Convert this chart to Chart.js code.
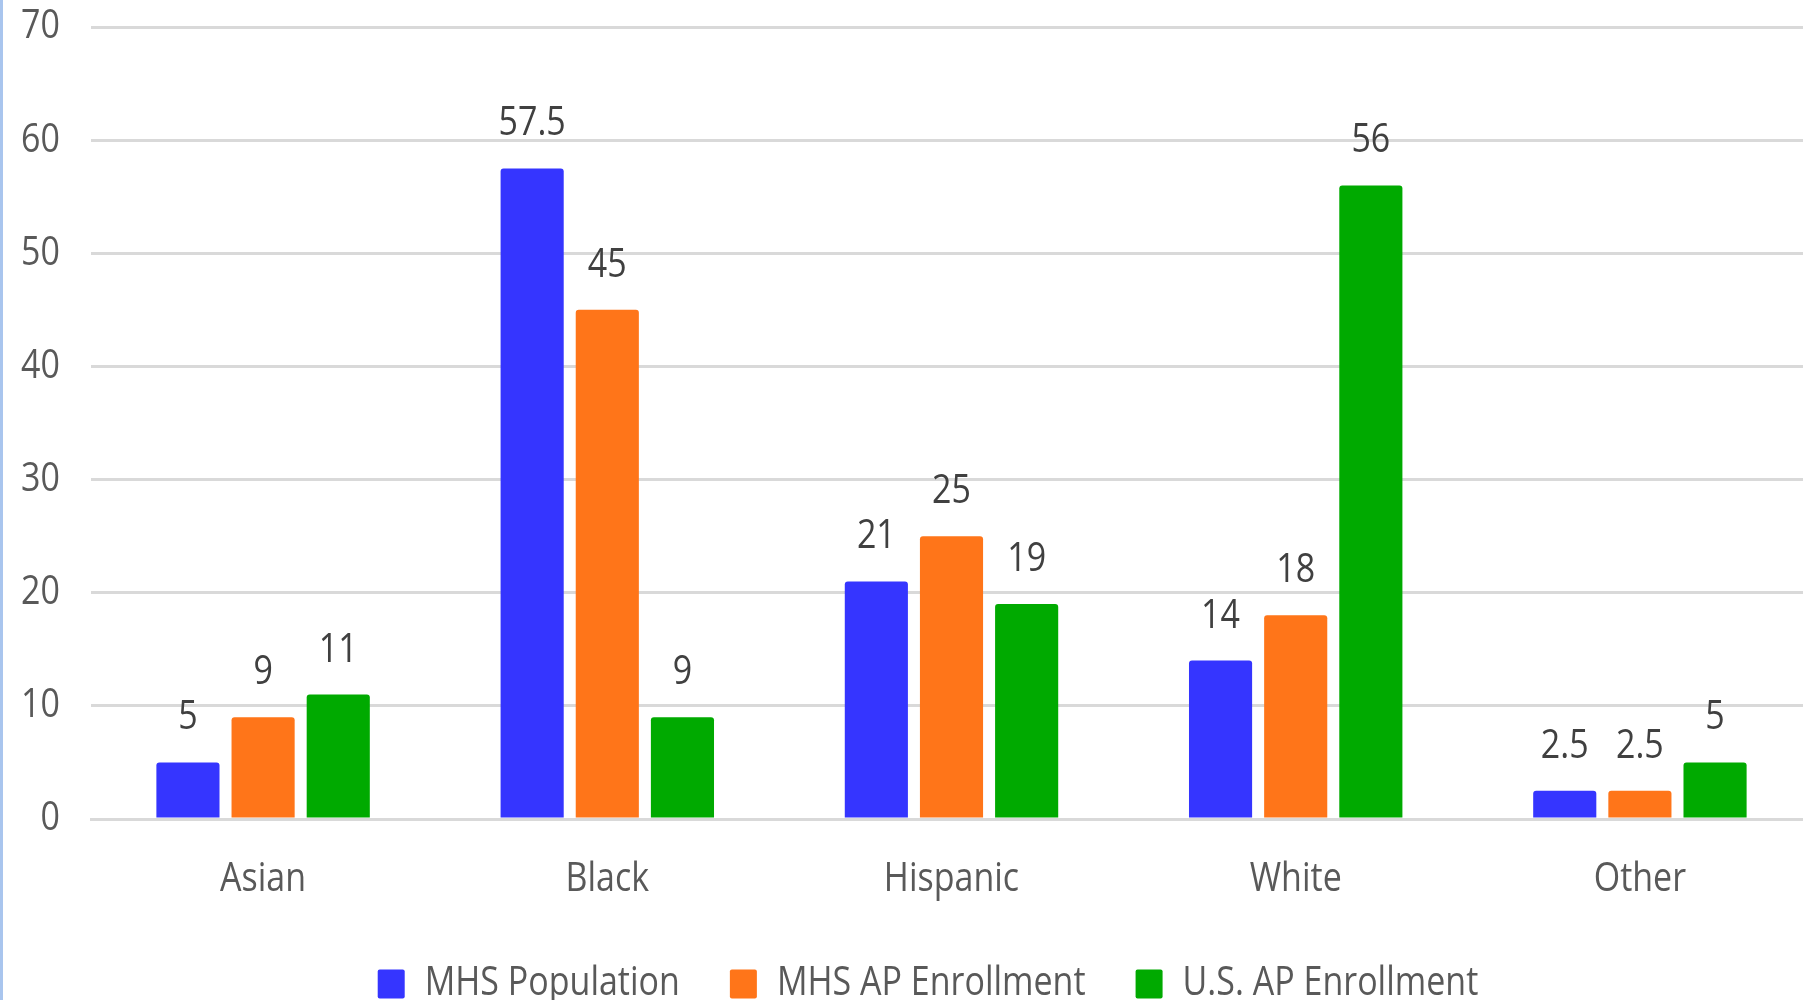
<!DOCTYPE html>
<html>
<head>
<meta charset="utf-8">
<script src="https://cdn.jsdelivr.net/npm/chart.js@4.4.1/dist/chart.umd.min.js"></script>
<style>
  html, body { margin: 0; padding: 0; background: #fff; overflow: hidden; }
  #wrap { position: relative; width: 1812px; height: 1000px; }
  #edge { position: absolute; left: 0; top: 0; width: 3px; height: 1000px; background: #a9c5ee; z-index: 2; }
</style>
</head>
<body>
<div id="wrap"><div id="edge"></div><canvas id="c" width="1812" height="1000"></canvas></div>
<script>
const categories = ["Asian", "Black", "Hispanic", "White", "Other"];
const seriesNames = ["MHS Population", "MHS AP Enrollment", "U.S. AP Enrollment"];
const mhsPopulation = [5, 57.5, 21, 14, 2.5];
const mhsApEnrollment = [9, 45, 25, 18, 2.5];
const usApEnrollment = [11, 9, 19, 56, 5];
const yTicks = [0, 10, 20, 30, 40, 50, 60, 70];

const colors = ["#3535ff", "#ff7519", "#00aa00"];
const FAMILY = "'Open Sans', 'Noto Sans', sans-serif";
const TEXT_SQUEEZE = 0.85;

// narrow the text horizontally, like the reference's compressed lettering
const canvas = document.getElementById("c");
const c2d = canvas.getContext("2d");
const origFill = c2d.fillText.bind(c2d);
const origMeasure = c2d.measureText.bind(c2d);
c2d.fillText = function (t, x, y, mw) {
  this.save();
  this.translate(x, y);
  this.scale(TEXT_SQUEEZE, 1);
  if (mw !== undefined) origFill(t, 0, 0, mw / TEXT_SQUEEZE); else origFill(t, 0, 0);
  this.restore();
};
c2d.measureText = function (t) {
  const m = origMeasure(t);
  return {
    width: m.width * TEXT_SQUEEZE,
    actualBoundingBoxAscent: m.actualBoundingBoxAscent,
    actualBoundingBoxDescent: m.actualBoundingBoxDescent,
    actualBoundingBoxLeft: m.actualBoundingBoxLeft * TEXT_SQUEEZE,
    actualBoundingBoxRight: m.actualBoundingBoxRight * TEXT_SQUEEZE,
    fontBoundingBoxAscent: m.fontBoundingBoxAscent,
    fontBoundingBoxDescent: m.fontBoundingBoxDescent
  };
};

const labelPlugin = {
  id: "valueLabels",
  afterDatasetsDraw(chart) {
    const ctx = chart.ctx;
    ctx.save();
    ctx.font = "40px " + FAMILY;
    ctx.fillStyle = "#404040";
    ctx.textAlign = "center";
    ctx.textBaseline = "alphabetic";
    chart.data.datasets.forEach((ds, i) => {
      const meta = chart.getDatasetMeta(i);
      meta.data.forEach((bar, j) => {
        ctx.fillText(String(ds.data[j]), bar.x, bar.y - 33);
      });
    });
    ctx.restore();
  }
};

const legendShift = {
  id: "legendShift",
  beforeDraw(chart) {
    if (chart.legend && !chart.legend._shifted) {
      chart.legend.left += 22;
      chart.legend.right += 22;
      chart.legend._shifted = true;
    }
  }
};

new Chart(c2d, {
  type: "bar",
  data: {
    labels: categories,
    datasets: [
      { label: seriesNames[0], data: mhsPopulation, backgroundColor: colors[0] },
      { label: seriesNames[1], data: mhsApEnrollment, backgroundColor: colors[1] },
      { label: seriesNames[2], data: usApEnrollment, backgroundColor: colors[2] }
    ]
  },
  options: {
    responsive: false,
    animation: false,
    layout: { padding: { top: 27, left: 0, right: 0, bottom: -14 } },
    datasets: {
      bar: { categoryPercentage: 0.655, barPercentage: 0.84, borderRadius: 3, borderSkipped: "bottom" }
    },
    plugins: {
      legend: {
        position: "bottom",
        labels: {
          font: { family: FAMILY, size: 40 },
          color: "#595959",
          boxWidth: 27,
          boxHeight: 29,
          padding: 50,
          useBorderRadius: true,
          borderRadius: 2
        }
      },
      tooltip: { enabled: false }
    },
    scales: {
      x: {
        grid: { display: false, drawTicks: false },
        border: { display: true, color: "#d9d9d9", width: 3 },
        ticks: { font: { family: FAMILY, size: 40 }, color: "#595959", padding: 37 },
        afterFit(scale) { scale.height = 95; }
      },
      y: {
        min: 0, max: 70,
        afterBuildTicks(scale) { scale.ticks = yTicks.map(v => ({ value: v })); },
        grid: { color: "#d9d9d9", lineWidth: 3, drawTicks: true, tickLength: 31, tickColor: "rgba(0,0,0,0)" },
        border: { display: false },
        ticks: { font: { family: FAMILY, size: 40 }, color: "#595959", padding: 0 },
        afterFit(scale) { scale.width = 91; }
      }
    }
  },
  plugins: [labelPlugin, legendShift]
});
</script>
</body>
</html>
